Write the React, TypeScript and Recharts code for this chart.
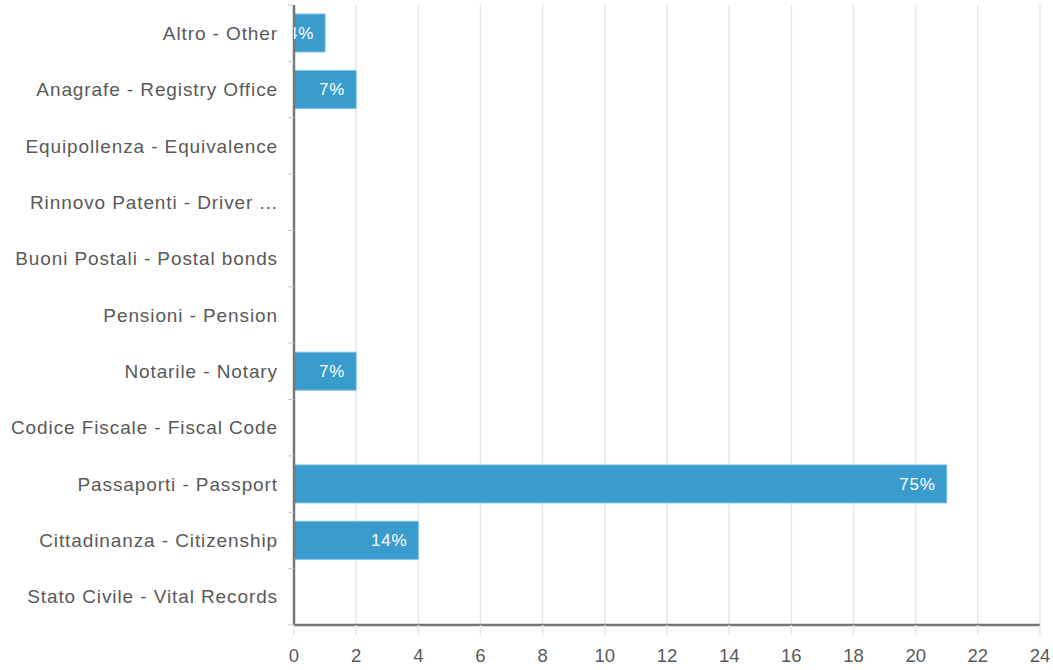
import { BarChart, Bar, XAxis, YAxis, CartesianGrid, LabelList } from 'recharts';

const categories = [
  'Altro - Other',
  'Anagrafe - Registry Office',
  'Equipollenza - Equivalence',
  'Rinnovo Patenti - Driver ...',
  'Buoni Postali - Postal bonds',
  'Pensioni - Pension',
  'Notarile - Notary',
  'Codice Fiscale - Fiscal Code',
  'Passaporti - Passport',
  'Cittadinanza - Citizenship',
  'Stato Civile - Vital Records',
];
const counts = [1, 2, 0, 0, 0, 0, 2, 0, 21, 4, 0];
const percents = ['4%', '7%', '', '', '', '', '7%', '', '75%', '14%', ''];
const xTicks = [0, 2, 4, 6, 8, 10, 12, 14, 16, 18, 20, 22, 24];

const data = categories.map((name, i) => ({ name, value: counts[i], pct: percents[i] }));

const FONT = '"Liberation Sans", Arial, sans-serif';
const BAND = 620 / categories.length;

function YTick(props: any) {
  const { x, y, payload } = props;
  return (
    <g>
      <line x1={x + 2} x2={x + 8} y1={y + BAND / 2} y2={y + BAND / 2} stroke="#c8c8c8" strokeWidth={1} />
      {payload.index === 0 && (
        <line x1={x + 2} x2={x + 8} y1={y - BAND / 2} y2={y - BAND / 2} stroke="#c8c8c8" strokeWidth={1} />
      )}
      <text
        x={x - 8}
        y={y}
        dy="0.35em"
        textAnchor="end"
        fill="#595959"
        fontSize={19}
        letterSpacing={0.9}
        fontFamily={FONT}
      >
        {payload.value}
      </text>
    </g>
  );
}

function BarLabel(props: any) {
  const { x, y, width, height, value, index } = props;
  if (!value) return null;
  const id = `clip-lbl-${index}`;
  return (
    <g>
      <defs>
        <clipPath id={id}>
          <rect x={x} y={y} width={width + 200} height={height} />
        </clipPath>
      </defs>
      <text
        x={x + width - 11}
        y={y + height / 2}
        dy="0.35em"
        textAnchor="end"
        fill="#ffffff"
        fontSize={17}
        letterSpacing={0.8}
        fontFamily={FONT}
        clipPath={`url(#${id})`}
      >
        {value}
      </text>
    </g>
  );
}

export default function App() {
  return (
    <div style={{ position: 'absolute', left: 0, top: 0, width: 1053, height: 670, background: '#fff' }}>
      <BarChart
        width={1053}
        height={670}
        data={data}
        layout="vertical"
        margin={{ top: 5, right: 13, bottom: 0, left: 0 }}
        barCategoryGap="16%"
      >
        <CartesianGrid horizontal={false} stroke="#e6e6e6" strokeWidth={1.5} />
        <XAxis
          type="number"
          domain={[0, 24]}
          ticks={xTicks}
          interval={0}
          height={45}
          axisLine={{ stroke: '#777777', strokeWidth: 2.5 }}
          tickLine={{ stroke: '#e6e6e6', strokeWidth: 1.5 }}
          tickSize={10}
          tickMargin={14}
          tick={{ fill: '#595959', fontSize: 18.5, fontFamily: FONT }}
        />
        <YAxis
          type="category"
          dataKey="name"
          width={294}
          interval={0}
          axisLine={{ stroke: '#777777', strokeWidth: 2.5 }}
          tickLine={false}
          tick={<YTick />}
        />
        <Bar dataKey="value" fill="#3a9bcd" stroke="#7cc0e4" strokeWidth={1} isAnimationActive={false}>
          <LabelList dataKey="pct" content={<BarLabel />} />
        </Bar>
      </BarChart>
    </div>
  );
}
